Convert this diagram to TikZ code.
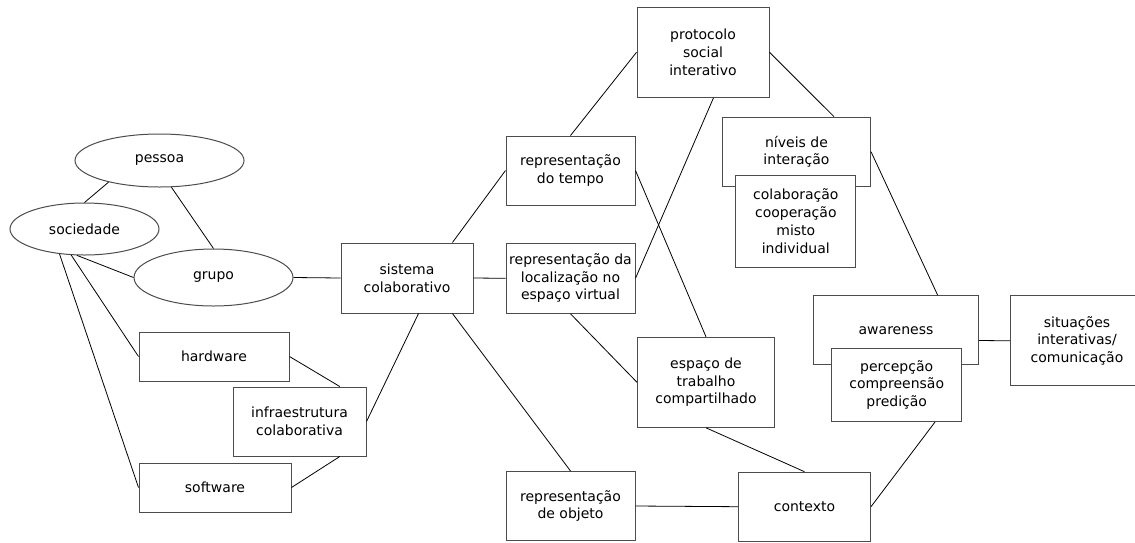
\documentclass[tikz,border=0pt]{standalone}
\usepackage{fontspec}
\setmainfont{DejaVu Sans}
\usetikzlibrary{shapes.geometric}

\begin{document}
\begin{tikzpicture}[x=1pt, y=-1pt, font=\fontsize{14}{17.7}\selectfont,
  caixa/.style={rectangle, draw=black!70, line width=1pt, fill=white, inner sep=0pt, align=center},
  elipse/.style={ellipse, draw=black!70, line width=1pt, fill=white, inner sep=0pt},
  liga/.style={line width=0.8pt}]
  \useasboundingbox (0,0) rectangle (1135,542);
  \clip (0,0) rectangle (1135,542);

  % lado esquerdo
  \node[elipse, minimum width=169, minimum height=53] (pessoa) at (159.5,160.5) {pessoa};
  \node[elipse, minimum width=149, minimum height=52] (sociedade) at (84.5,229) {sociedade};
  \node[elipse, minimum width=159, minimum height=57] (grupo) at (213.5,277.5) {grupo};
  \node[caixa, minimum width=150, minimum height=49] (hardware) at (214,356.5) {hardware};
  \node[caixa, minimum width=133, minimum height=69] (infra) at (299.5,421.5) {infraestrutura\\colaborativa};
  \node[caixa, minimum width=152, minimum height=49] (software) at (215,487.5) {software};
  \node[caixa, minimum width=132, minimum height=70] (sistema) at (407,278) {sistema\\colaborativo};

  % representacoes
  \node[caixa, minimum width=129, minimum height=69] (reptempo) at (570.5,170.5) {representação\\do tempo};
  \node[caixa, minimum width=129, minimum height=70] (replocal) at (570.5,278.3) {representação da\\localização no\\espaço virtual};
  \node[caixa, minimum width=129, minimum height=69] (repobjeto) at (570.5,506) {representação\\de objeto};

  \node[caixa, minimum width=132, minimum height=90] (protocolo) at (703,52.3) {protocolo\\social\\interativo};
  \node[caixa, minimum width=137, minimum height=90] (espaco) at (706,382.3) {espaço de\\trabalho\\compartilhado};
  \node[caixa, minimum width=132, minimum height=69] (contexto) at (804.5,506.7) {contexto};

  % lado direito
  \node[caixa, minimum width=148, minimum height=69] (niveis) at (796.5,151.7) {níveis de\\interação};
  \node[caixa, minimum width=120, minimum height=92] (colab) at (795.8,221.2) {colaboração\\cooperação\\misto\\individual};
  \node[caixa, minimum width=165, minimum height=69] (awareness) at (896,330.3) {awareness};
  \node[caixa, minimum width=130, minimum height=73] (percepcao) at (896.7,385) {percepção\\compreensão\\predição};
  \node[caixa, minimum width=133, minimum height=90] (situacoes) at (1077,340.8) {situações\\interativas/\\comunicação};

  \draw[liga] (sociedade.north) -- (pessoa.-157);
  \draw[liga] (pessoa.-66.5) -- (grupo.north);
  \draw[liga] (sociedade.-106) -- (grupo.west);
  \draw[liga] (sociedade.-117) -- (hardware.west);
  \draw[liga] (sociedade.-135) -- (software.west);
  \draw[liga] (grupo.east) -- (sistema.west);
  \draw[liga] (hardware.east) -- (infra.41);
  \draw[liga] (software.east) -- (infra.-41);
  \draw[liga] (infra.east) -- (sistema.-72.6);

  \draw[liga] (sistema.38) -- (reptempo.west);
  \draw[liga] (sistema.east) -- (replocal.west);
  \draw[liga] (sistema.-38) -- (repobjeto.north);
  \draw[liga] (reptempo.north) -- (protocolo.west);
  \draw[liga] (replocal.east) -- (protocolo.-77.8);
  \draw[liga] (reptempo.east) -- (espaco.north);
  \draw[liga] (replocal.south) -- (espaco.west);
  \draw[liga] (repobjeto.east) -- (contexto.west);
  \draw[liga] (espaco.south) -- (contexto.north);

  \draw[liga] (protocolo.east) -- (niveis.43.8);
  \draw[liga] (niveis.east) -- (awareness.40.4);
  \draw[liga] (contexto.east) -- (percepcao.-44.3);
  \draw[liga] (awareness.-7) -- (situacoes.west);
\end{tikzpicture}
\end{document}
